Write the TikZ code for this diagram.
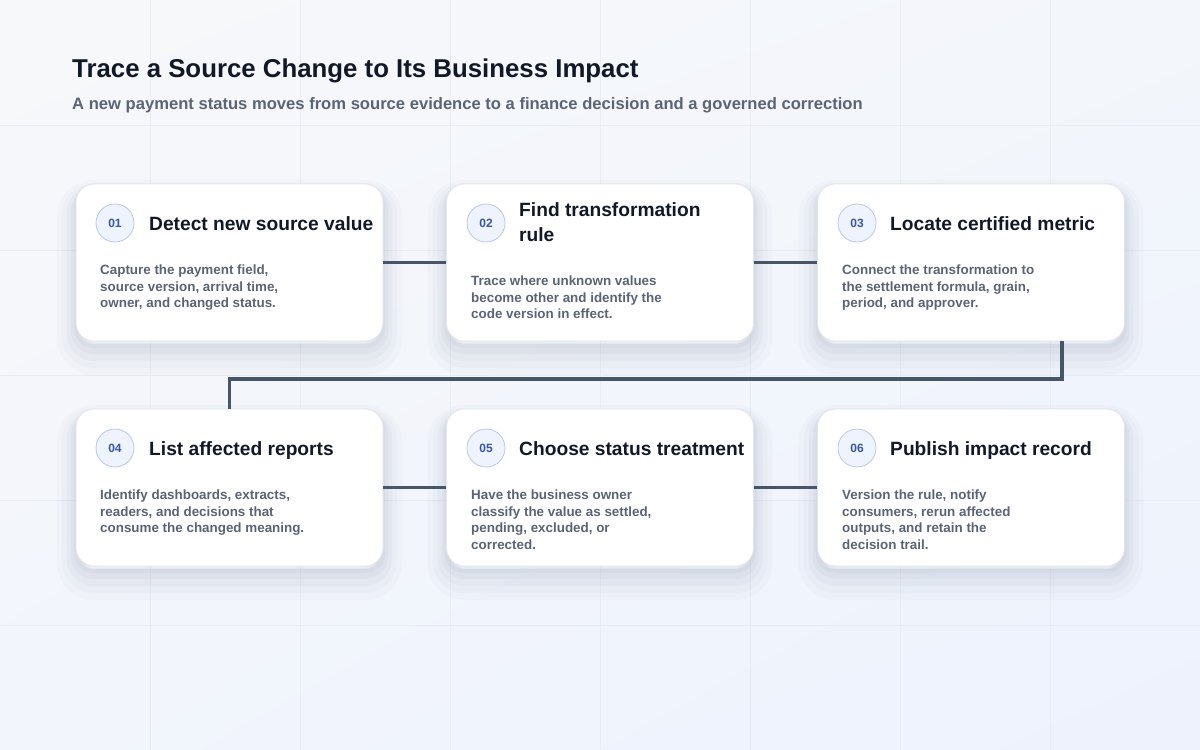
\documentclass[tikz,border=0pt]{standalone}
\usepackage{fontspec}
\setmainfont{Liberation Sans}
\usetikzlibrary{shadings}

\definecolor{bgtl}{HTML}{F7F8FA}
\definecolor{bgtr}{HTML}{F3F6FB}
\definecolor{bgbl}{HTML}{F2F5FC}
\definecolor{bgbr}{HTML}{EDF2FD}
\definecolor{gridcol}{HTML}{E8ECF3}
\definecolor{ink}{HTML}{111827}
\definecolor{muted}{HTML}{5B6475}
\definecolor{wire}{HTML}{475569}
\definecolor{cardline}{HTML}{E1E5EC}
\definecolor{shadecol}{HTML}{3B4A6B}
\definecolor{numfill}{HTML}{EEF3FD}
\definecolor{numline}{HTML}{B9C8E6}
\definecolor{numtext}{HTML}{3557A6}

\tikzstyle{card}=[rectangle, rounded corners=18pt, minimum width=307pt, minimum height=157pt, draw=cardline, line width=0.8pt, fill=white,
    preaction={draw=shadecol, draw opacity=0.02, line width=38pt, transform canvas={yshift=-15pt}},
    preaction={draw=shadecol, draw opacity=0.025, line width=28pt, transform canvas={yshift=-13pt}},
    preaction={draw=shadecol, draw opacity=0.03, line width=18pt, transform canvas={yshift=-11pt}},
    preaction={draw=shadecol, draw opacity=0.035, line width=10pt, transform canvas={yshift=-8pt}},
    preaction={draw=shadecol, draw opacity=0.04, line width=4pt, transform canvas={yshift=-5pt}}]
\tikzstyle{numb}=[circle, minimum size=38pt, inner sep=0pt, draw=numline, line width=0.8pt, fill=numfill, text=numtext, font=\bfseries\fontsize{12}{14}\selectfont]
\tikzstyle{head}=[anchor=base west, inner sep=0pt, text=ink, align=left, font=\bfseries\fontsize{19.2}{25}\selectfont]
\tikzstyle{body}=[anchor=north west, inner sep=0pt, text=muted, align=left, font=\bfseries\fontsize{13.4}{16.7}\selectfont]
\tikzstyle{link}=[draw=wire, line width=3.6pt]

\begin{document}
\begin{tikzpicture}[x=1pt,y=-1pt]
        \useasboundingbox (0,0) rectangle (1200,750);
        \shade[upper left=bgtl, upper right=bgtr, lower left=bgbl, lower right=bgbr] (0,0) rectangle (1200,750);
        \draw[gridcol, line width=0.7pt]
            (150,0) -- (150,750)  (300,0) -- (300,750)  (450,0) -- (450,750)  (600,0) -- (600,750)
            (750,0) -- (750,750)  (900,0) -- (900,750)  (1050,0) -- (1050,750)
            (0,125) -- (1200,125)  (0,250) -- (1200,250)  (0,375) -- (1200,375)  (0,500) -- (1200,500)  (0,625) -- (1200,625);
        %
        \draw (72,77) node[anchor=base west, inner sep=0pt, text=ink, font=\bfseries\fontsize{25.8}{30}\selectfont](title){Trace a Source Change to Its Business Impact};
        \draw (72,109) node[anchor=base west, inner sep=0pt, text=muted, font=\bfseries\fontsize{16.6}{20}\selectfont](subtitle){A new payment status moves from source evidence to a finance decision and a governed correction};
        %
        \draw (229.5,262.5) node[card](c1){};
        \draw (600,262.5) node[card](c2){};
        \draw (971,262.5) node[card](c3){};
        \draw (229.5,487.5) node[card](c4){};
        \draw (600,487.5) node[card](c5){};
        \draw (971,487.5) node[card](c6){};
        %
        \coordinate (t3) at (1062,379);
        \coordinate (t4) at (229.5,379);
        \path
            (c1)    edge[link]    (c2)
            (c2)    edge[link]    (c3)
            (c4)    edge[link]    (c5)
            (c5)    edge[link]    (c6)
        ;
        \draw[link] (c3.south -| t3) -- (t3) -- (t4) -- (c4);
        % row 1
        \draw (115,223) node[numb](n1){01};
        \draw (149,230) node[head](h1){Detect new source value};
        \draw (100,264.5) node[body](b1){Capture the payment field,\\source version, arrival time,\\owner, and changed status.};
        \draw (486,223) node[numb](n2){02};
        \draw (519,222) node[head, anchor=west](h2){Find transformation\\rule};
        \draw (471,275.5) node[body](b2){Trace where unknown values\\become other and identify the\\code version in effect.};
        \draw (857,223) node[numb](n3){03};
        \draw (890,230) node[head](h3){Locate certified metric};
        \draw (842,264.5) node[body](b3){Connect the transformation to\\the settlement formula, grain,\\period, and approver.};
        % row 2
        \draw (115,448) node[numb](n4){04};
        \draw (149,455) node[head](h4){List affected reports};
        \draw (100,489.5) node[body](b4){Identify dashboards, extracts,\\readers, and decisions that\\consume the changed meaning.};
        \draw (486,448) node[numb](n5){05};
        \draw (519,455) node[head](h5){Choose status treatment};
        \draw (471,489.5) node[body](b5){Have the business owner\\classify the value as settled,\\pending, excluded, or\\corrected.};
        \draw (857,448) node[numb](n6){06};
        \draw (890,455) node[head](h6){Publish impact record};
        \draw (842,489.5) node[body](b6){Version the rule, notify\\consumers, rerun affected\\outputs, and retain the\\decision trail.};
        %;
\end{tikzpicture}
\end{document}
